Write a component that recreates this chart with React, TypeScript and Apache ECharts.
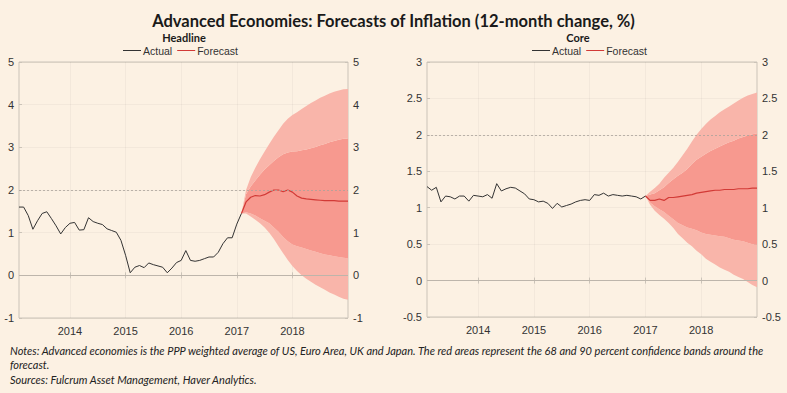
import React, { useEffect, useRef } from "react";
import * as echarts from "echarts";

const START_YEAR = 2013;
const START_MONTH = 2; // February 2013
const N_MONTHS = 72; // Feb 2013 .. Jan 2019

const headlineActual = [
  1.6, 1.6, 1.4, 1.08, 1.28, 1.45, 1.49, 1.33, 1.16, 0.97, 1.12,
  1.22, 1.24, 1.06, 1.07, 1.35, 1.26, 1.22, 1.19, 1.09, 1.05, 1.01, 0.82,
  0.47, 0.06, 0.19, 0.23, 0.18, 0.29, 0.25, 0.22, 0.19, 0.06, 0.17, 0.3,
  0.35, 0.58, 0.35, 0.33, 0.35, 0.39, 0.43, 0.43, 0.54, 0.74, 0.88, 0.88,
  1.2, 1.45,
];
const headlineFcStart = 48; // Feb 2017
const headlineMedian = [
  1.45, 1.72, 1.83, 1.87, 1.86, 1.89, 1.95, 2.0, 2.0, 1.96, 2.0, 1.95,
  1.86, 1.81, 1.79, 1.78, 1.77, 1.76, 1.75, 1.75, 1.75, 1.74, 1.74, 1.74,
];
const headlineOuterUp = [
  1.45, 2.0, 2.3, 2.52, 2.72, 2.9, 3.08, 3.25, 3.4, 3.55, 3.67, 3.76,
  3.82, 3.9, 3.97, 4.04, 4.1, 4.16, 4.21, 4.26, 4.3, 4.33, 4.36, 4.37,
];
const headlineInnerUp = [
  1.45, 1.9, 2.08, 2.22, 2.36, 2.48, 2.58, 2.68, 2.77, 2.84, 2.88, 2.9,
  2.91, 2.93, 2.95, 2.98, 3.01, 3.05, 3.08, 3.12, 3.15, 3.18, 3.2, 3.2,
];
const headlineInnerLow = [
  1.45, 1.48, 1.45, 1.4, 1.34, 1.28, 1.22, 1.12, 1.02, 0.9, 0.8, 0.72,
  0.68, 0.65, 0.62, 0.58, 0.55, 0.52, 0.49, 0.47, 0.45, 0.43, 0.41, 0.4,
];
const headlineOuterLow = [
  1.45, 1.45, 1.38, 1.3, 1.22, 1.12, 1.0, 0.85, 0.68, 0.52, 0.36, 0.22,
  0.1, 0.0, -0.08, -0.15, -0.22, -0.28, -0.34, -0.4, -0.45, -0.5, -0.55, -0.57,
];

const coreActual = [
  1.29, 1.24, 1.28, 1.08, 1.16, 1.15, 1.12, 1.16, 1.16, 1.09, 1.17,
  1.16, 1.15, 1.18, 1.13, 1.33, 1.23, 1.26, 1.28, 1.27, 1.23, 1.19, 1.12,
  1.11, 1.08, 1.09, 1.06, 0.99, 1.06, 1.01, 1.03, 1.05, 1.08, 1.1, 1.11,
  1.1, 1.18, 1.17, 1.2, 1.16, 1.18, 1.17, 1.16, 1.17, 1.16, 1.15, 1.12,
  1.16,
];
const coreFcStart = 47; // Jan 2017
const coreMedian = [
  1.16, 1.1, 1.1, 1.12, 1.1, 1.14, 1.14, 1.15, 1.16, 1.17, 1.18, 1.2,
  1.21, 1.22, 1.23, 1.24, 1.24, 1.25, 1.25, 1.25, 1.26, 1.26, 1.26, 1.27, 1.27,
];
const coreOuterUp = [
  1.16, 1.22, 1.27, 1.33, 1.41, 1.48, 1.55, 1.63, 1.72, 1.81, 1.91, 2.0,
  2.08, 2.15, 2.21, 2.26, 2.31, 2.35, 2.39, 2.43, 2.47, 2.51, 2.54, 2.56, 2.58,
];
const coreInnerUp = [
  1.16, 1.18, 1.2, 1.24, 1.28, 1.34, 1.39, 1.44, 1.48, 1.53, 1.6, 1.66,
  1.7, 1.74, 1.78, 1.81, 1.84, 1.87, 1.9, 1.92, 1.95, 1.97, 1.99, 2.01, 2.02,
];
const coreInnerLow = [
  1.16, 1.07, 1.02, 0.98, 0.94, 0.89, 0.84, 0.79, 0.76, 0.73, 0.71, 0.69,
  0.66, 0.64, 0.63, 0.62, 0.61, 0.6, 0.58, 0.56, 0.55, 0.54, 0.52, 0.5, 0.49,
];
const coreOuterLow = [
  1.16, 1.04, 0.96, 0.9, 0.85, 0.79, 0.72, 0.64, 0.58, 0.52, 0.47, 0.41,
  0.36, 0.3, 0.26, 0.22, 0.18, 0.15, 0.12, 0.08, 0.05, 0.02, -0.02, -0.06, -0.09,
];

const BG = "#fcf1e3";
const LIGHT = "#f9b5aa";
const DARK = "#f7998f";
const RED = "#d23a36";
const LINE_DARK = "#333333";
const TXT = "#333333";
const BORDER = "#cbc3b8";

const months: string[] = Array.from({ length: N_MONTHS }, (_, i) => {
  const m = START_MONTH - 1 + i;
  const y = START_YEAR + Math.floor(m / 12);
  const mm = (m % 12) + 1;
  return `${y}-${mm < 10 ? "0" + mm : mm}`;
});

const place = (vals: number[], start: number) =>
  months.map((_, i) => (i >= start && i - start < vals.length ? vals[i - start] : null));
const diff = (a: number[], b: number[]) => a.map((v, k) => +(v - b[k]).toFixed(4));

function bands(id: string, xi: number, yi: number, start: number, ol: number[], il: number[], iu: number[], ou: number[], med: number[], act: number[]) {
  const common = {
    type: "line",
    xAxisIndex: xi,
    yAxisIndex: yi,
    stack: id,
    stackStrategy: "all",
    symbol: "none",
    silent: true,
    lineStyle: { width: 0, opacity: 0 },
    z: 1,
  };
  return [
    { ...common, name: id + "_base", data: place(ol, start) },
    { ...common, name: id + "_b1", data: place(diff(il, ol), start), areaStyle: { color: LIGHT, opacity: 1 } },
    { ...common, name: id + "_b2", data: place(diff(iu, il), start), areaStyle: { color: DARK, opacity: 1 } },
    { ...common, name: id + "_b3", data: place(diff(ou, iu), start), areaStyle: { color: LIGHT, opacity: 1 } },
    {
      type: "line",
      name: "Forecast",
      xAxisIndex: xi,
      yAxisIndex: yi,
      symbol: "none",
      data: place(med, start),
      lineStyle: { color: RED, width: 1.2 },
      itemStyle: { color: RED },
      z: 3,
    },
    {
      type: "line",
      name: "Actual",
      xAxisIndex: xi,
      yAxisIndex: yi,
      symbol: "none",
      data: place(act, 0),
      lineStyle: { color: LINE_DARK, width: 1 },
      itemStyle: { color: LINE_DARK },
      z: 3,
      markLine: {
        silent: true,
        symbol: "none",
        label: { show: false },
        data: [
          { yAxis: 2, lineStyle: { color: "#aaa29a", type: [2, 2], width: 0.8 } },
          { yAxis: 0, lineStyle: { color: "#bdb5ab", type: "solid", width: 1 } },
        ],
      },
    },
  ];
}

const labelFont = { color: TXT, fontSize: 11, fontFamily: "Liberation Sans" };
const isJan = (i: number, v: string) => v.endsWith("-01") && i < N_MONTHS - 1;

function xAxes(gridIndex: number) {
  const base = {
    type: "category",
    gridIndex,
    data: months,
    boundaryGap: false,
    axisLine: { show: false },
  };
  return [
    {
      ...base,
      position: "bottom",
      axisTick: { show: true, inside: true, length: 3, interval: isJan, lineStyle: { color: BORDER } },
      axisLabel: { ...labelFont, margin: 7, interval: isJan, formatter: (v: string) => v.slice(0, 4) },
      splitLine: { show: true, interval: isJan, lineStyle: { color: "rgba(0,0,0,0.035)" } },
    },
    {
      ...base,
      position: "top",
      axisTick: { show: true, inside: true, length: 3, interval: isJan, lineStyle: { color: BORDER } },
      axisLabel: { show: false },
      splitLine: { show: false },
    },
  ];
}

function yAxes(gridIndex: number, min: number, max: number, interval: number) {
  const base = {
    type: "value",
    gridIndex,
    min,
    max,
    interval,
    axisLine: { show: false },
    axisTick: { show: true, inside: true, length: 3, lineStyle: { color: BORDER } },
    axisLabel: { ...labelFont, margin: 5 },
  };
  return [
    { ...base, position: "left", splitLine: { show: true, lineStyle: { color: "rgba(0,0,0,0.035)" } } },
    { ...base, position: "right", splitLine: { show: false } },
  ];
}

export default function App() {
  const ref = useRef<HTMLDivElement>(null);
  useEffect(() => {
    if (!ref.current) return;
    const chart = echarts.init(ref.current, undefined, { renderer: "svg" });
    const legendCommon = {
      data: ["Actual", "Forecast"],
      icon: "rect",
      itemWidth: 18,
      itemHeight: 1,
      itemGap: 5,
      textStyle: { color: TXT, fontSize: 10.5, fontFamily: "Liberation Sans", padding: [0, 0, 0, -3] },
      selectedMode: false,
      top: 45,
      padding: 0,
    };
    chart.setOption({
      animation: false,
      backgroundColor: BG,
      title: {
        text: "Advanced Economies: Forecasts of Inflation (12-month change, %)",
        left: "center",
        top: 7,
        textStyle: { fontSize: 16.5, fontWeight: "bold", color: "#1a1a1a", fontFamily: "Lato" },
      },
      legend: [
        { ...legendCommon, left: 123 },
        { ...legendCommon, left: 532 },
      ],
      grid: [
        { left: 19, right: 439, top: 62, height: 256, show: true, borderColor: BORDER, borderWidth: 1, backgroundColor: "transparent" },
        { left: 427, right: 30, top: 62, height: 255, show: true, borderColor: BORDER, borderWidth: 1, backgroundColor: "transparent" },
      ],
      xAxis: [...xAxes(0), ...xAxes(1)],
      yAxis: [...yAxes(0, -1, 5, 1), ...yAxes(1, -0.5, 3, 0.5)],
      series: [
        ...bands("h", 0, 0, headlineFcStart, headlineOuterLow, headlineInnerLow, headlineInnerUp, headlineOuterUp, headlineMedian, headlineActual),
        ...bands("c", 2, 2, coreFcStart, coreOuterLow, coreInnerLow, coreInnerUp, coreOuterUp, coreMedian, coreActual),
      ],
      graphic: [
        { type: "text", x: 184, y: 32, style: { text: "Headline", fill: "#1a1a1a", font: "bold 11px Lato", textAlign: "center" } },
        { type: "text", x: 578, y: 32, style: { text: "Core", fill: "#1a1a1a", font: "bold 11px Lato", textAlign: "center" } },
        {
          type: "text",
          x: 10,
          y: 343,
          style: {
            text:
              "Notes: Advanced economies is the PPP weighted average of US, Euro Area, UK and Japan. The red areas represent the 68 and 90 percent confidence bands around the\nforecast.\nSources: Fulcrum Asset Management, Haver Analytics.",
            fill: "#222",
            font: "italic 11px Lato",
            lineHeight: 14.5,
          },
        },
      ],
    });
    return () => chart.dispose();
  }, []);
  return <div ref={ref} style={{ width: 787, height: 393, position: "absolute", left: 0, top: 0 }} />;
}
